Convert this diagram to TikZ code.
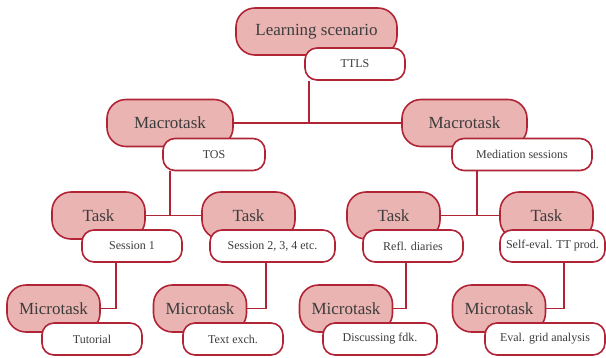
\documentclass[tikz,border=0pt]{standalone}
\usepackage{fontspec}
\setmainfont{Liberation Serif}
\usepackage{tikz}

\definecolor{rosefill}{RGB}{234,180,178}
\definecolor{wine}{RGB}{176,36,54}
\definecolor{inkgrey}{RGB}{60,60,60}

\begin{document}
\begin{tikzpicture}
        [x=1pt,y=-1pt,line width=1.6pt,
         level/.style={draw=wine,fill=rosefill,rounded corners=19pt,minimum height=47pt,
           text=inkgrey,font=\fontsize{17}{20}\selectfont,inner sep=0},
         tag/.style={draw=wine,fill=white,rounded corners=12pt,minimum height=32pt,
           text=inkgrey,font=\fontsize{12}{14}\selectfont,inner sep=0},
         link/.style={draw=wine}]

        \useasboundingbox (0,0) rectangle (606,357);

        \node[level,minimum width=161pt] (ls) at (316.5,31.5) {Learning scenario};
        \node[tag,minimum width=100pt] (ttls) at (355,64) {TTLS};

        \node[level,minimum width=126pt] (mac1) at (170,123) {Macrotask};
        \node[tag,minimum width=102pt] (tos) at (214,154.5) {TOS};
        \node[level,minimum width=125pt] (mac2) at (464.5,123) {Macrotask};
        \node[tag,minimum width=140pt] (med) at (522,154.5) {Mediation sessions};

        \node[level,minimum width=93pt] (task1) at (98.5,215.5) {Task};
        \node[tag,minimum width=100pt] (ses1) at (132,246) {Session 1};
        \node[level,minimum width=93pt] (task2) at (248.5,215.5) {Task};
        \node[tag,minimum width=125pt] (ses2) at (272.5,246) {Session 2, 3, 4 etc.};
        \node[level,minimum width=93pt] (task3) at (393.5,215.5) {Task};
        \node[tag,minimum width=100pt] (refl) at (413,246) {Refl. diaries};
        \node[level,minimum width=93pt] (task4) at (546.5,215.5) {Task};
        \node[tag,minimum width=105pt] (self) at (552.5,246) {Self-eval. TT prod.};

        \node[level,minimum width=93pt] (mic1) at (53.5,308.5) {Microtask};
        \node[tag,minimum width=100pt] (tut) at (92,339) {Tutorial};
        \node[level,minimum width=93pt] (mic2) at (200,308.5) {Microtask};
        \node[tag,minimum width=100pt] (txt) at (233,339) {Text exch.};
        \node[level,minimum width=93pt] (mic3) at (346,308.5) {Microtask};
        \node[tag,minimum width=114pt] (disc) at (380,339) {Discussing fdk.};
        \node[level,minimum width=93pt] (mic4) at (499,308.5) {Microtask};
        \node[tag,minimum width=120pt] (eval) at (545,339) {Eval. grid analysis};

        \coordinate (top) at (309,123);
        \coordinate (left) at (170,215.5);
        \coordinate (right) at (477,215.5);

        \draw[link] (mac1) -- (mac2);
        \draw[link] (ttls.south -| top) -- (top);
        \draw[link] (task1) -- (task2);
        \draw[link] (tos.south -| left) -- (left);
        \draw[link] (task3) -- (task4);
        \draw[link] (med.south -| right) -- (right);
        \draw[link] ([xshift=35pt]ses1.south west) |- (mic1);
        \draw[link] ([xshift=57pt]ses2.south west) |- (mic2);
        \draw[link] ([xshift=44pt]refl.south west) |- (mic3);
        \draw[link] ([xshift=65pt]self.south west) |- (mic4);
      \end{tikzpicture}
\end{document}
